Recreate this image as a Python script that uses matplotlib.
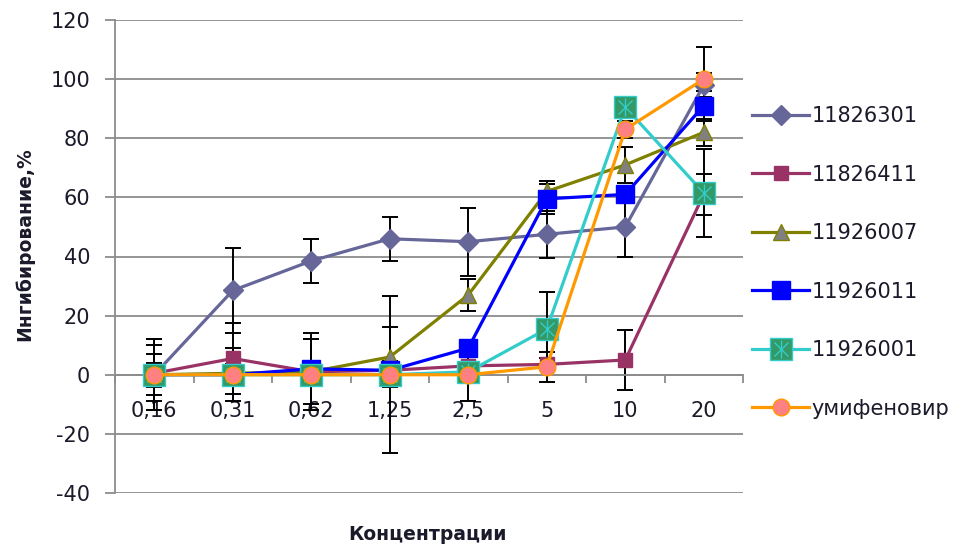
import numpy as np
import matplotlib.pyplot as plt
from matplotlib.legend_handler import HandlerTuple

plt.rcParams['axes.unicode_minus'] = False

# concentrations (category axis) and series
concentrations = ['0,16', '0,31', '0,62', '1,25', '2,5', '5', '10', '20']
names = ['11826301', '11826411', '11926007', '11926011', '11926001', 'умифеновир']

s_11826301 = [0, 28.5, 38.5, 46, 45, 47.5, 50, 98]
s_11826411 = [0.5, 5.5, 1, 1.5, 3, 3.5, 5, 61]
s_11926007 = [0, 0.5, 1, 6, 27, 62, 71, 82]
s_11926011 = [0, 0, 2, 1.5, 9, 59.5, 61, 91]
s_11926001 = [0, 0, 0, 0, 1, 15.5, 90.5, 61.5]
s_umifenovir = [0, 0, 0, 0, 0, 2.7, 83, 100]

# standard deviations
e_11826301 = [4, 14.5, 7.5, 7.5, 11.5, 8, 10, 4]
e_11826411 = [9.5, 12, 3, 3, 3, 2, 10, 7]
e_11926007 = [7, 3, 3, 10, 5.5, 3.5, 6, 4.5]
e_11926011 = [12, 3, 12, 2, 2, 5, 3, 5]
e_11926001 = [0, 0, 0, 0, 0, 12.5, 0, 15]
e_umifenovir = [12, 9, 12, 26.5, 9, 5, 3, 11]

values = [s_11826301, s_11826411, s_11926007, s_11926011, s_11926001, s_umifenovir]
errors = [e_11826301, e_11826411, e_11926007, e_11926011, e_11926001, e_umifenovir]

line_colors = ['#666699', '#993366', '#808000', '#0000FF', '#33CCCC', '#FF9900']
face_colors = ['#666699', '#993366', '#808080', '#0000FF', '#339966', '#FF8080']
edge_colors = ['#666699', '#993366', '#808000', '#0000FF', '#33CCCC', '#FF9900']
markers = ['D', 's', '^', 's', 's', 'o']
msizes = [10.5, 10, 11, 13, 16, 12]

text_color = '#1a1a2a'
axis_color = '#8c8c8c'

fig = plt.figure(figsize=(9.55, 5.44), dpi=100)
ax = fig.add_axes([115 / 955, 1 - 493 / 544, 628 / 955, 473 / 544])

x = np.arange(len(concentrations))

# error bars behind the markers
for vals, errs in zip(values, errors):
    ax.errorbar(x, vals, yerr=errs, fmt='none', ecolor='black',
                elinewidth=1.4, capsize=5.5, capthick=1.4, zorder=2)

handles = []
for i, (vals, name) in enumerate(zip(values, names)):
    h, = ax.plot(x, vals, color=line_colors[i], lw=2.3, marker=markers[i],
                 ms=msizes[i], mfc=face_colors[i], mec=edge_colors[i], mew=1.0,
                 zorder=3 + i, label=name)
    if name == '11926001':
        hx, = ax.plot(x, vals, ls='none', marker='x', ms=10, mec='#33CCCC',
                      mew=1.0, zorder=3 + i)
        hv, = ax.plot(x, vals, ls='none', marker='|', ms=13, mec='#33CCCC',
                      mew=1.0, zorder=3 + i)
        handles.append((h, hx, hv))
    else:
        handles.append(h)

ax.set_xlim(-0.5, len(concentrations) - 0.5)
ax.set_ylim(-40, 120)
ax.set_yticks(np.arange(-40, 121, 20))
ax.yaxis.grid(True, color=axis_color, lw=1.3)
ax.set_axisbelow(True)

ax.spines['top'].set_visible(False)
ax.spines['right'].set_visible(False)
ax.spines['left'].set_color(axis_color)
ax.spines['left'].set_linewidth(1.3)
ax.spines['bottom'].set_position(('data', 0))
ax.spines['bottom'].set_color(axis_color)
ax.spines['bottom'].set_linewidth(1.3)

ax.set_xticks(x)
ax.set_xticklabels(concentrations)
ax.set_xticks(np.arange(-0.5, len(concentrations), 1), minor=True)
ax.tick_params(axis='x', which='major', length=0, pad=19, labelsize=15,
               labelcolor=text_color)
ax.tick_params(axis='x', which='minor', length=6, width=1.3, color=axis_color,
               direction='out')
ax.tick_params(axis='y', length=7, width=1.3, color=axis_color, pad=11,
               labelsize=15, labelcolor=text_color)

fig.text(24 / 955, 1 - 244 / 544, 'Ингибирование,%', rotation=90, ha='center',
         va='center', fontsize=13.5, fontweight='bold', color=text_color)
fig.text(427 / 955, 1 - 535 / 544, 'Концентрации', ha='center', va='center',
         fontsize=13.5, fontweight='bold', color=text_color)

fig.legend(handles, names, loc='upper left',
           bbox_to_anchor=(752 / 955, 1 - 106 / 544), frameon=False,
           fontsize=15, labelcolor=text_color, handlelength=2.75,
           handletextpad=0.12, labelspacing=1.85, borderpad=0,
           borderaxespad=0, handler_map={tuple: HandlerTuple(ndivide=1)})

fig.savefig('out.png', dpi=100)
